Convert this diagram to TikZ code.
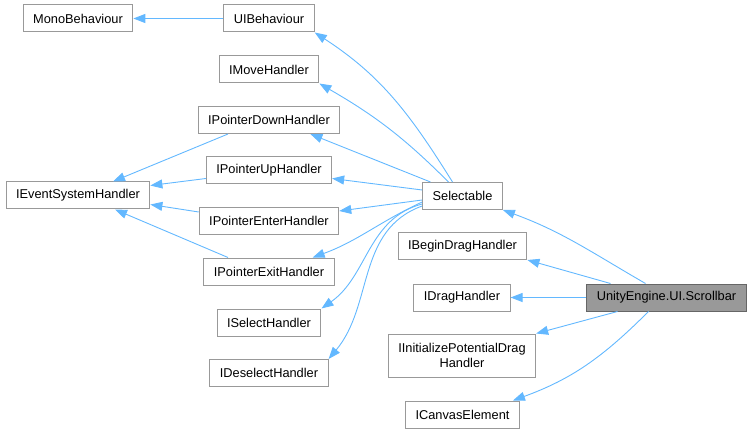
\documentclass[tikz,border=0pt]{standalone}
\usepackage{fontspec}
\setmainfont{Liberation Sans}
\usetikzlibrary{arrows.meta}
\definecolor{edgeblue}{RGB}{99,184,255}
\definecolor{boxgray}{RGB}{153,153,153}
\definecolor{rootgray}{RGB}{153,153,153}
\definecolor{rootborder}{RGB}{102,102,102}

\begin{document}
\begin{tikzpicture}[x=1pt,y=1pt,
  cls/.style={draw=boxgray,line width=1pt,fill=white,minimum height=27pt,
    inner xsep=10pt,inner ysep=2pt,font=\fontsize{12.8}{15}\selectfont},
  root/.style={cls,fill=rootgray,draw=rootborder},
  inh/.style={edgeblue,line width=0.9pt,-{Triangle[length=12pt,width=9pt]}}]
  \useasboundingbox (0,0) rectangle (753,-433);
  % Base classes and interfaces
  \node[cls] (mono) at (78,-18.5) {MonoBehaviour};
  \node[cls] (uib) at (269,-18.5) {UIBehaviour};
  \node[cls] (imove) at (269,-69.5) {IMoveHandler};
  \node[cls] (ipdown) at (269,-120) {IPointerDownHandler};
  \node[cls] (ipup) at (269,-170.5) {IPointerUpHandler};
  \node[cls] (iesh) at (78,-195.5) {IEventSystemHandler};
  \node[cls] (ipenter) at (269,-221) {IPointerEnterHandler};
  \node[cls] (ipexit) at (269,-271.5) {IPointerExitHandler};
  \node[cls] (isel) at (269,-322.5) {ISelectHandler};
  \node[cls] (idesel) at (269,-373) {IDeselectHandler};
  \node[cls] (sel) at (462.5,-196) {Selectable};
  \node[cls] (ibdrag) at (462.5,-246) {IBeginDragHandler};
  \node[cls] (idrag) at (462,-297.5) {IDragHandler};
  \node[cls,align=center,minimum height=43pt] (iipd) at (462,-355.5)
    {IInitializePotentialDrag\\Handler};
  \node[cls] (icanvas) at (462.5,-414.5) {ICanvasElement};
  % Class itself
  \node[root] (sb) at (666.5,-297.5) {UnityEngine.UI.Scrollbar};
  % Inheritance
  \draw[inh] (uib) -- (mono);
  \draw[inh] ([xshift=-10pt]sel.north) to[out=122,in=-33] (uib.south east);
  \draw[inh] ([xshift=-14pt]sel.north) to[out=135,in=-30] (imove.south east);
  \draw[inh] ([xshift=-32pt]sel.north) -- ([xshift=-30pt]ipdown.south east);
  \draw[inh] ([yshift=6pt]sel.west) -- ([yshift=-8pt]ipup.east);
  \draw[inh] ([yshift=-4pt]sel.west) -- ([yshift=10pt]ipenter.east);
  \draw[inh] ([yshift=-6pt]sel.west) to[out=205,in=20] ([xshift=-22pt]ipexit.north east);
  \draw[inh] ([yshift=-8pt]sel.west) to[out=195,in=35] (isel.north east);
  \draw[inh] ([yshift=-10pt]sel.west) to[out=200,in=50] (idesel.north east);
  \draw[inh] ([xshift=-41pt]ipdown.south) -- ([xshift=35pt]iesh.north);
  \draw[inh] ([yshift=-8pt]ipup.west) -- ([yshift=10pt]iesh.east);
  \draw[inh] ([yshift=9pt]ipenter.west) -- ([yshift=-9pt]iesh.east);
  \draw[inh] ([xshift=-41pt]ipexit.north) -- ([xshift=37pt]iesh.south);
  \draw[inh] ([xshift=-21pt]sb.north) to[out=150,in=-20] (sel.south east);
  \draw[inh] ([xshift=-56pt]sb.north) -- (ibdrag.south east);
  \draw[inh] (sb.west) -- (idrag.east);
  \draw[inh] ([xshift=-49pt]sb.south) -- (iipd.north east);
  \draw[inh] ([xshift=-18pt]sb.south) to[out=-135,in=20] ([xshift=-7pt]icanvas.north east);
\end{tikzpicture}
\end{document}
